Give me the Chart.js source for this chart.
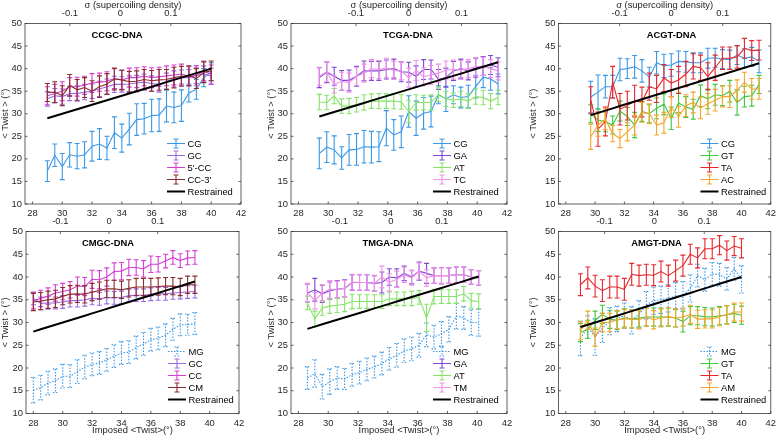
<!DOCTYPE html>
<html>
<head>
<meta charset="utf-8">
<script src="https://cdn.jsdelivr.net/npm/chart.js@4.4.1/dist/chart.umd.min.js"></script>
<style>
  html, body { margin: 0; padding: 0; background: #fff; }
  #wrap { position: relative; width: 780px; height: 438px; overflow: hidden; }
  canvas { position: absolute; }
</style>
</head>
<body>
<div id="wrap"></div>
<script>
/* DATA */
const xTicks = [28, 30, 32, 34, 36, 38, 40, 42];
const yTicks = [10, 15, 20, 25, 30, 35, 40, 45, 50];
const sigmaTicks = [-0.1, 0, 0.1];

// CCGC-DNA
const ccgcTwist = [29, 29.5, 30, 30.5, 31, 31.5, 32, 32.5, 33, 33.5, 34, 34.5, 35, 35.5, 36, 36.5, 37, 37.5, 38, 38.5, 39, 39.5, 40];
const ccgcCG = [17.3, 20.8, 18.3, 20.9, 20.6, 20.9, 22.8, 23.3, 22.4, 25.8, 24.6, 26.6, 28.7, 28.9, 29.6, 29.7, 31.7, 31.4, 31.8, 34.6, 35.4, 38.0, 39.3];
const ccgcCGErr = [2.3, 2.5, 2.9, 2.7, 2.8, 2.9, 3.3, 3.4, 2.6, 3.5, 3.1, 3.5, 3.5, 3.4, 3.6, 3.6, 3.5, 3.4, 3.5, 2.0, 2.2, 2.0, 2.0];
const ccgcGC = [33.3, 34.0, 33.8, 34.5, 34.5, 34.8, 35.0, 35.5, 36.0, 36.5, 36.5, 36.6, 36.8, 37.0, 36.7, 36.5, 37.2, 37.7, 38.0, 38.0, 38.5, 38.8, 38.3];
const ccgcGCErr = [1.6, 1.6, 1.7, 1.6, 1.7, 1.7, 1.6, 1.7, 1.7, 1.8, 1.7, 1.8, 1.7, 1.8, 1.7, 1.7, 1.8, 1.8, 1.7, 1.8, 1.8, 1.8, 1.8];
const ccgcCC5 = [34.0, 34.5, 35.0, 36.0, 36.0, 36.3, 36.8, 37.0, 37.2, 37.8, 37.5, 38.0, 38.0, 38.3, 38.0, 38.2, 38.4, 38.6, 38.8, 38.3, 38.5, 39.5, 38.7];
const ccgcCC5Err = [2.0, 2.0, 2.1, 2.0, 2.1, 2.0, 2.1, 2.0, 2.1, 2.2, 2.1, 2.1, 2.2, 2.1, 2.2, 2.1, 2.2, 2.2, 2.2, 2.1, 2.2, 2.2, 2.1];
const ccgcCC3 = [34.7, 34.8, 34.0, 36.3, 35.3, 35.8, 35.0, 36.0, 36.6, 37.7, 37.5, 37.1, 37.2, 37.6, 37.3, 37.5, 37.6, 38.0, 38.3, 38.4, 37.8, 39.2, 39.5];
const ccgcCC3Err = [2.0, 2.3, 2.2, 2.4, 2.3, 2.2, 2.3, 2.4, 2.3, 2.4, 2.2, 2.3, 2.3, 2.2, 2.3, 2.3, 2.2, 2.3, 2.2, 2.2, 2.2, 2.3, 2.2];

// TCGA-DNA
const tcgaTwist = [29.4, 29.9, 30.4, 30.9, 31.4, 31.9, 32.4, 32.9, 33.4, 33.9, 34.4, 34.9, 35.4, 35.9, 36.4, 36.9, 37.4, 37.9, 38.4, 38.9, 39.4, 39.9, 40.4, 40.9, 41.4];
const tcgaCG = [21.2, 22.6, 22.0, 20.2, 22.0, 22.1, 22.7, 22.6, 22.7, 26.8, 25.3, 26.0, 30.5, 29.0, 30.1, 30.5, 34.2, 33.3, 34.2, 33.6, 33.8, 36.0, 38.1, 37.7, 36.6];
const tcgaCGErr = [3.4, 3.4, 3.1, 2.5, 3.4, 3.5, 3.6, 3.5, 3.3, 3.9, 3.4, 3.5, 3.5, 3.8, 3.5, 3.4, 2.0, 2.8, 2.0, 2.3, 2.5, 2.5, 2.3, 2.5, 2.2];
const tcgaGA = [38.0, 39.2, 38.3, 37.4, 37.4, 38.3, 39.5, 39.5, 39.5, 39.8, 40.0, 39.3, 39.2, 38.3, 39.8, 39.8, 37.6, 38.0, 39.5, 40.0, 39.5, 40.2, 40.6, 40.8, 40.3];
const tcgaGAErr = [2.2, 2.3, 2.0, 2.2, 2.3, 2.2, 2.2, 2.1, 2.1, 2.1, 2.1, 2.2, 2.2, 2.3, 2.2, 2.1, 2.2, 2.1, 2.1, 2.1, 2.0, 2.1, 2.1, 2.1, 2.1];
const tcgaAT = [32.6, 32.5, 33.9, 31.7, 31.7, 32.0, 32.5, 32.8, 32.8, 32.8, 32.8, 32.6, 30.5, 32.5, 32.5, 32.5, 34.3, 33.3, 33.0, 33.3, 32.8, 33.8, 33.6, 32.8, 33.6];
const tcgaATErr = [1.7, 1.6, 1.7, 1.6, 1.7, 1.6, 1.7, 1.6, 1.7, 1.6, 1.7, 1.6, 2.5, 1.7, 1.6, 1.7, 1.6, 1.7, 1.6, 1.7, 1.6, 1.7, 1.6, 1.7, 1.6];
const tcgaTC = [38.3, 39.3, 36.5, 37.2, 36.9, 38.3, 39.0, 40.0, 39.8, 40.2, 39.6, 39.5, 38.0, 39.6, 38.2, 38.6, 39.0, 39.7, 39.8, 39.7, 40.0, 40.4, 40.5, 40.0, 39.5];
const tcgaTCErr = [2.0, 2.2, 1.9, 2.0, 2.1, 2.0, 2.0, 2.0, 2.0, 2.1, 2.0, 2.0, 2.1, 2.2, 2.0, 2.1, 2.0, 2.0, 2.1, 2.1, 2.0, 2.0, 2.0, 2.0, 2.0];

// ACGT-DNA
const acgtTwist = [29.7, 30.2, 30.7, 31.2, 31.7, 32.2, 32.7, 33.2, 33.7, 34.2, 34.7, 35.2, 35.7, 36.2, 36.7, 37.2, 37.7, 38.2, 38.7, 39.2, 39.7, 40.2, 40.7, 41.2];
const acgtCG = [33.7, 34.8, 36.0, 36.0, 39.8, 40.0, 40.4, 39.5, 38.1, 41.3, 40.6, 40.8, 41.6, 41.5, 41.3, 41.3, 42.3, 42.4, 42.1, 42.0, 43.0, 42.3, 42.6, 41.6];
const acgtCGErr = [3.5, 3.8, 2.5, 2.5, 2.5, 2.2, 2.5, 2.5, 2.2, 2.5, 2.6, 2.5, 2.3, 2.3, 2.2, 2.2, 2.2, 2.1, 2.1, 2.1, 2.1, 2.1, 2.1, 2.5];
const acgtGT = [30.0, 28.6, 28.2, 27.5, 30.6, 29.4, 27.5, 30.5, 30.0, 31.2, 32.1, 29.0, 32.4, 31.5, 31.0, 34.0, 33.3, 34.2, 34.0, 35.0, 32.5, 33.8, 34.0, 36.5];
const acgtGTErr = [2.0, 2.5, 2.2, 2.0, 2.2, 2.0, 2.8, 2.2, 2.0, 2.3, 2.3, 2.5, 2.2, 2.3, 2.2, 2.4, 2.2, 2.3, 2.2, 2.4, 2.8, 2.3, 2.3, 2.0];
const acgtTA = [33.0, 26.6, 28.3, 37.0, 31.0, 31.8, 32.8, 32.6, 36.0, 35.5, 37.9, 36.8, 37.5, 38.8, 40.5, 40.2, 38.3, 40.2, 42.3, 42.3, 42.6, 44.5, 44.0, 44.1];
const acgtTAErr = [3.0, 3.8, 3.2, 3.5, 3.5, 3.2, 3.5, 3.3, 3.0, 3.0, 3.0, 3.0, 3.0, 2.8, 2.8, 2.8, 3.0, 2.8, 2.5, 2.5, 2.5, 2.2, 2.2, 2.2];
const acgtAC = [24.9, 27.5, 28.8, 25.6, 24.5, 26.0, 27.5, 30.3, 30.0, 27.5, 28.0, 31.5, 29.3, 31.8, 32.5, 31.3, 32.2, 33.0, 33.8, 33.8, 35.2, 37.0, 35.5, 35.5];
const acgtACErr = [2.8, 2.5, 2.3, 1.8, 2.0, 2.0, 2.2, 2.2, 2.2, 2.2, 2.3, 2.3, 2.3, 2.4, 2.3, 2.4, 2.3, 2.4, 2.3, 2.4, 2.3, 2.2, 2.3, 2.3];

// CMGC-DNA
const cmgcTwist = [28, 28.5, 29, 29.5, 30, 30.5, 31, 31.5, 32, 32.5, 33, 33.5, 34, 34.5, 35, 35.5, 36, 36.5, 37, 37.5, 38, 38.5, 39];
const cmgcMG = [15.1, 15.7, 16.7, 17.2, 18.2, 18.2, 19.2, 20.2, 20.8, 21.1, 21.8, 22.6, 23.3, 23.5, 24.5, 25.3, 26.2, 26.5, 27.2, 28.5, 29.5, 29.5, 29.8];
const cmgcMGErr = [2.8, 2.7, 2.6, 2.6, 2.6, 2.5, 2.6, 2.6, 2.5, 2.5, 2.5, 2.5, 2.5, 2.5, 2.5, 2.5, 2.5, 2.5, 2.5, 2.4, 2.4, 2.3, 2.4];
const cmgcGC = [35.3, 34.2, 34.3, 34.3, 34.5, 34.8, 34.8, 35.0, 35.3, 35.2, 35.5, 35.4, 35.5, 35.9, 36.0, 36.0, 36.2, 36.3, 36.3, 36.5, 36.6, 36.7, 36.8];
const cmgcGCErr = [1.4, 1.4, 1.4, 1.3, 1.4, 1.4, 1.4, 1.4, 1.4, 1.4, 1.4, 1.4, 1.4, 1.4, 1.4, 1.4, 1.4, 1.4, 1.4, 1.4, 1.4, 1.4, 1.4];
const cmgcCC = [34.8, 35.3, 35.8, 36.5, 36.8, 37.2, 38.0, 37.9, 39.5, 39.4, 40.0, 41.2, 41.3, 42.1, 42.1, 41.8, 42.8, 42.8, 43.5, 44.3, 43.6, 44.2, 44.3];
const cmgcCCErr = [1.8, 1.8, 1.8, 1.8, 1.8, 1.8, 2.0, 2.0, 2.0, 2.0, 2.0, 1.9, 1.9, 1.8, 1.7, 1.8, 1.8, 1.7, 1.5, 1.5, 1.5, 1.5, 1.5];
const cmgcCM = [34.5, 34.7, 35.0, 35.2, 35.8, 36.2, 36.3, 36.2, 36.7, 37.0, 37.4, 37.4, 37.2, 37.5, 37.8, 37.8, 37.8, 37.9, 38.0, 38.0, 37.8, 38.3, 38.3];
const cmgcCMErr = [1.9, 1.9, 1.9, 1.9, 1.9, 1.9, 1.9, 1.9, 1.9, 1.9, 1.9, 1.9, 1.9, 1.9, 1.9, 1.9, 1.9, 1.9, 1.9, 1.9, 1.9, 1.9, 1.9];

// TMGA-DNA
const tmgaTwist = [28.6, 29.1, 29.6, 30.1, 30.6, 31.1, 31.6, 32.1, 32.6, 33.1, 33.6, 34.1, 34.6, 35.1, 35.6, 36.1, 36.6, 37.1, 37.6, 38.1, 38.6, 39.1, 39.6, 40.1];
const tmgaMG = [17.8, 18.8, 15.9, 17.0, 17.8, 17.6, 18.5, 19.0, 19.7, 20.2, 21.0, 22.0, 22.8, 23.8, 24.2, 25.0, 27.3, 26.8, 27.5, 28.5, 31.4, 31.0, 30.0, 30.0];
const tmgaMGErr = [2.5, 3.0, 2.7, 2.8, 2.5, 2.3, 2.5, 2.5, 2.5, 2.4, 2.5, 2.5, 2.6, 2.6, 2.6, 2.6, 2.6, 2.6, 2.7, 2.8, 2.8, 2.5, 2.8, 3.0];
const tmgaGA = [36.5, 37.2, 36.3, 37.0, 37.3, 37.5, 38.8, 38.8, 38.8, 38.6, 38.8, 40.0, 39.8, 40.8, 40.0, 41.3, 40.8, 40.3, 40.3, 40.3, 40.5, 40.5, 40.0, 39.8];
const tmgaGAErr = [2.0, 2.5, 1.9, 1.9, 1.9, 1.9, 1.7, 1.7, 1.7, 1.7, 2.3, 1.8, 2.0, 1.6, 1.5, 2.0, 2.2, 1.7, 1.8, 1.7, 1.7, 1.7, 1.6, 1.6];
const tmgaAT = [34.3, 30.8, 33.2, 33.6, 33.8, 34.0, 34.6, 34.6, 34.6, 34.6, 34.6, 35.2, 35.2, 35.2, 35.3, 35.5, 31.0, 35.7, 35.7, 35.7, 35.7, 36.3, 34.8, 34.6];
const tmgaATErr = [1.5, 1.7, 1.6, 1.6, 1.6, 1.6, 1.6, 1.5, 1.5, 1.5, 1.5, 1.5, 1.5, 1.5, 1.6, 1.5, 3.0, 1.6, 1.5, 1.5, 1.5, 1.6, 1.6, 1.7];
const tmgaTM = [36.6, 34.8, 36.5, 37.3, 37.3, 37.5, 38.9, 38.8, 38.8, 38.6, 40.0, 38.8, 39.5, 40.5, 39.8, 41.3, 39.8, 40.3, 40.3, 40.3, 40.5, 40.5, 40.0, 39.8];
const tmgaTMErr = [2.0, 1.8, 1.8, 1.9, 1.8, 1.8, 1.7, 1.7, 1.7, 1.8, 2.4, 1.9, 1.8, 1.7, 1.6, 1.8, 1.8, 1.7, 1.7, 1.7, 1.7, 1.7, 1.6, 1.6];

// AMGT-DNA
const amgtTwist = [29, 29.5, 30, 30.5, 31, 31.5, 32, 32.5, 33, 33.5, 34, 34.5, 35, 35.5, 36, 36.5, 37, 37.5, 38, 38.5, 39, 39.5, 40];
const amgtMG = [26.5, 29.0, 26.8, 28.8, 30.3, 30.8, 31.5, 30.5, 31.8, 33.8, 34.8, 35.0, 35.3, 35.8, 36.0, 37.5, 40.3, 39.4, 40.7, 40.5, 39.6, 41.8, 39.5];
const amgtMGErr = [3.8, 2.5, 4.0, 3.2, 3.0, 2.8, 2.8, 3.0, 3.0, 3.0, 3.0, 3.0, 3.0, 3.0, 3.0, 3.0, 2.5, 2.5, 2.5, 2.5, 2.5, 2.5, 3.0];
const amgtGT = [27.8, 28.5, 30.5, 31.8, 30.7, 30.5, 31.0, 30.8, 31.0, 31.2, 31.2, 31.2, 31.2, 31.0, 30.2, 31.5, 31.5, 31.3, 31.2, 31.5, 31.7, 32.0, 31.6];
const amgtGTErr = [2.0, 2.0, 2.0, 2.0, 2.0, 2.0, 2.0, 2.0, 2.0, 2.0, 2.0, 2.0, 2.0, 2.0, 2.3, 2.0, 2.0, 2.0, 2.0, 2.0, 2.0, 2.0, 2.0];
const amgtTA = [38.3, 39.8, 38.0, 37.0, 37.8, 37.8, 37.3, 40.6, 40.3, 40.5, 40.4, 41.2, 40.3, 41.4, 42.5, 45.0, 44.2, 46.2, 46.2, 47.0, 45.8, 46.8, 46.3];
const amgtTAErr = [2.4, 2.4, 2.4, 2.4, 2.4, 2.4, 2.4, 2.4, 2.3, 2.3, 2.3, 2.3, 2.3, 2.3, 2.3, 2.2, 2.2, 2.2, 2.2, 2.1, 2.1, 2.1, 2.1];
const amgtAM = [28.2, 30.5, 26.8, 30.0, 30.0, 30.6, 30.8, 30.8, 30.6, 31.2, 30.6, 31.0, 31.3, 31.0, 31.2, 31.8, 30.7, 30.8, 30.8, 31.3, 31.7, 32.3, 32.3];
const amgtAMErr = [2.0, 2.0, 2.0, 2.0, 2.0, 2.0, 2.0, 2.0, 2.0, 2.0, 2.0, 2.0, 2.0, 2.0, 2.0, 2.0, 2.0, 2.0, 2.0, 2.0, 2.0, 2.0, 2.0];

/* COLORS */
const C = {
  blue: "#3a98e6", purple: "#9a6ae6", violet: "#7d45d6", magenta: "#d43fd6",
  brown: "#8c2d2d", lime: "#86e36a", green: "#3cc83c", pink: "#f08ee8",
  red: "#e8262c", orange: "#f5a52a"
};
const FONT = '"Liberation Sans", Arial, Helvetica, sans-serif';
const FSIZE = 9.4;
Chart.defaults.font.family = FONT;
Chart.defaults.font.size = FSIZE;
Chart.defaults.color = "#262626";

function series(label, x, y, err, color, dotted) {
  return {
    label, err,
    data: x.map((v, i) => ({ x: v, y: y[i] })),
    borderColor: color, borderWidth: 1.1,
    borderDash: dotted ? [1.5, 1.5] : [],
    pointRadius: 0, fill: false, tension: 0
  };
}
function restrained(x) {
  // restrained twist follows the imposed twist
  return {
    label: "Restrained", data: x.map(v => ({ x: v, y: v })),
    borderColor: "#000", borderWidth: 2, pointRadius: 0, fill: false
  };
}

/* PANELS */
const panels = [
  { title: "CCGC-DNA", row: 0, left: 0, yw: 25, padR: 19, s0: 33.9, tdx: 92, yPad: 0,
    ds: [series("CG", ccgcTwist, ccgcCG, ccgcCGErr, C.blue),
         series("GC", ccgcTwist, ccgcGC, ccgcGCErr, C.purple),
         series("5'-CC", ccgcTwist, ccgcCC5, ccgcCC5Err, C.magenta),
         series("CC-3'", ccgcTwist, ccgcCC3, ccgcCC3Err, C.brown),
         restrained(ccgcTwist)] },
  { title: "TCGA-DNA", row: 0, left: 260, yw: 31, padR: 13, s0: 35.4, tdx: 117, yPad: 6,
    ds: [series("CG", tcgaTwist, tcgaCG, tcgaCGErr, C.blue),
         series("GA", tcgaTwist, tcgaGA, tcgaGAErr, C.violet),
         series("AT", tcgaTwist, tcgaAT, tcgaATErr, C.lime),
         series("TC", tcgaTwist, tcgaTC, tcgaTCErr, C.pink),
         restrained(tcgaTwist)] },
  { title: "ACGT-DNA", row: 0, left: 520, yw: 38.5, padR: 8, s0: 35.2, tdx: 113, yPad: 8,
    ds: [series("CG", acgtTwist, acgtCG, acgtCGErr, C.blue),
         series("GT", acgtTwist, acgtGT, acgtGTErr, C.green),
         series("TA", acgtTwist, acgtTA, acgtTAErr, C.red),
         series("AC", acgtTwist, acgtAC, acgtACErr, C.orange),
         restrained(acgtTwist)] },
  { title: "CMGC-DNA", row: 1, left: 0, yw: 26, padR: 21, s0: 33.15, tdx: 82, yPad: 0,
    ds: [series("MG", cmgcTwist, cmgcMG, cmgcMGErr, C.blue, true),
         series("GC", cmgcTwist, cmgcGC, cmgcGCErr, C.purple),
         series("CC", cmgcTwist, cmgcCC, cmgcCCErr, C.magenta),
         series("CM", cmgcTwist, cmgcCM, cmgcCMErr, C.brown),
         restrained(cmgcTwist)] },
  { title: "TMGA-DNA", row: 1, left: 260, yw: 31, padR: 13, s0: 34.2, tdx: 97, yPad: 6,
    ds: [series("MG", tmgaTwist, tmgaMG, tmgaMGErr, C.blue, true),
         series("GA", tmgaTwist, tmgaGA, tmgaGAErr, C.violet),
         series("AT", tmgaTwist, tmgaAT, tmgaATErr, C.lime),
         series("TM", tmgaTwist, tmgaTM, tmgaTMErr, C.pink),
         restrained(tmgaTwist)] },
  { title: "AMGT-DNA", row: 1, left: 520, yw: 38.5, padR: 8, s0: 34.05, tdx: 98, yPad: 8,
    ds: [series("MG", amgtTwist, amgtMG, amgtMGErr, C.blue, true),
         series("GT", amgtTwist, amgtGT, amgtGTErr, C.green),
         series("TA", amgtTwist, amgtTA, amgtTAErr, C.red),
         series("AM", amgtTwist, amgtAM, amgtAMErr, C.orange),
         restrained(amgtTwist)] }
];
const rows = [
  { top: 0, height: 219, topH: 23.5, botH: 15 },
  { top: 212, height: 226, topH: 19.5, botH: 24.5 }
];

/* PLUGINS */
const errorBars = {
  id: "errorBars",
  afterDatasetDraw(chart, args) {
    const ds = chart.data.datasets[args.index];
    if (!ds.err) return;
    const { x, y } = chart.scales;
    const ctx = chart.ctx;
    ctx.save();
    ctx.strokeStyle = ds.borderColor;
    ctx.lineWidth = ds.borderWidth;
    ctx.setLineDash(ds.borderDash);
    ds.data.forEach((p, i) => {
      const px = x.getPixelForValue(p.x);
      const t = y.getPixelForValue(p.y + ds.err[i]);
      const b = y.getPixelForValue(p.y - ds.err[i]);
      ctx.beginPath();
      ctx.moveTo(px, t); ctx.lineTo(px, b);
      ctx.moveTo(px - 2.5, t); ctx.lineTo(px + 2.5, t);
      ctx.moveTo(px - 2.5, b); ctx.lineTo(px + 2.5, b);
      ctx.stroke();
    });
    ctx.restore();
  }
};

const frame = {
  id: "frame",
  afterDraw(chart, args, opts) {
    const { ctx, chartArea: a, scales } = chart;
    const tl = 2.5;
    ctx.save();
    ctx.strokeStyle = "#3a3a3a";
    ctx.lineWidth = 0.8;
    ctx.strokeRect(a.left, a.top, a.right - a.left, a.bottom - a.top);
    ctx.beginPath();
    scales.x.ticks.forEach(t => {
      const px = scales.x.getPixelForValue(t.value);
      ctx.moveTo(px, a.bottom); ctx.lineTo(px, a.bottom - tl);
    });
    scales.x2.ticks.forEach(t => {
      const px = scales.x2.getPixelForValue(t.value);
      ctx.moveTo(px, a.top); ctx.lineTo(px, a.top + tl);
    });
    scales.y.ticks.forEach(t => {
      const py = scales.y.getPixelForValue(t.value);
      ctx.moveTo(a.left, py); ctx.lineTo(a.left + tl, py);
      ctx.moveTo(a.right, py); ctx.lineTo(a.right - tl, py);
    });
    ctx.stroke();

    // panel title
    ctx.fillStyle = "#000";
    ctx.font = "bold " + FSIZE + "px " + FONT;
    ctx.textAlign = "center";
    ctx.textBaseline = "middle";
    ctx.fillText(opts.title, a.left + opts.tdx, a.top + 12);

    // legend
    ctx.font = FSIZE + "px " + FONT;
    ctx.textAlign = "left";
    chart.data.datasets.forEach((ds, i) => {
      const y0 = a.top + 120 + i * 12;
      const x0 = a.left + 142;
      ctx.strokeStyle = ds.borderColor;
      ctx.lineWidth = ds.borderWidth;
      ctx.setLineDash(ds.borderDash || []);
      ctx.beginPath();
      ctx.moveTo(x0, y0); ctx.lineTo(x0 + 18, y0);
      if (ds.err) {
        const cx = x0 + 9;
        ctx.moveTo(cx, y0 - 4.5); ctx.lineTo(cx, y0 + 4.5);
        ctx.moveTo(cx - 2.5, y0 - 4.5); ctx.lineTo(cx + 2.5, y0 - 4.5);
        ctx.moveTo(cx - 2.5, y0 + 4.5); ctx.lineTo(cx + 2.5, y0 + 4.5);
      }
      ctx.stroke();
      ctx.setLineDash([]);
      ctx.fillStyle = "#000";
      ctx.fillText(ds.label, x0 + 20.5, y0 + 0.5);
    });
    ctx.restore();
  }
};

/* BUILD */
function buildPanel(p) {
  const r = rows[p.row];
  const cv = document.createElement("canvas");
  cv.width = 260; cv.height = r.height;
  cv.style.left = p.left + "px"; cv.style.top = r.top + "px";
  document.getElementById("wrap").appendChild(cv);

  const n = p.ds.length;
  p.ds.forEach((d, i) => { d.order = n - i; });

  new Chart(cv, {
    type: "line",
    data: { datasets: p.ds },
    plugins: [errorBars, frame],
    options: {
      responsive: false, animation: false, events: [],
      layout: { padding: { left: 0, right: p.padR, top: 0, bottom: 0 } },
      plugins: {
        legend: { display: false }, tooltip: { enabled: false },
        frame: { title: p.title, tdx: p.tdx }
      },
      scales: {
        x: {
          type: "linear", position: "bottom", min: 27.5, max: 42,
          afterBuildTicks: s => { s.ticks = xTicks.map(v => ({ value: v })); },
          afterFit: s => { s.height = r.botH; },
          grid: { display: false, drawTicks: false }, border: { display: false },
          ticks: { padding: 4, maxRotation: 0, autoSkip: false, callback: v => String(v) },
          title: { display: p.row === 1, text: "Imposed <Twist>(°)", padding: { top: 0, bottom: 1.5 } }
        },
        x2: {
          type: "linear", position: "top", min: 27.5 / p.s0 - 1, max: 42 / p.s0 - 1,
          afterBuildTicks: s => { s.ticks = sigmaTicks.map(v => ({ value: v })); },
          afterFit: s => { s.height = r.topH; },
          grid: { display: false, drawTicks: false }, border: { display: false },
          ticks: { padding: 4, maxRotation: 0, autoSkip: false, callback: v => String(v) },
          title: { display: p.row === 0, text: "σ (supercoiling density)", padding: { top: 0, bottom: 0 } }
        },
        y: {
          type: "linear", position: "left", min: 10, max: 50,
          afterBuildTicks: s => { s.ticks = yTicks.map(v => ({ value: v })); },
          afterFit: s => { s.width = p.yw; },
          grid: { display: false, drawTicks: false }, border: { display: false },
          ticks: { padding: 3, autoSkip: false, callback: v => String(v) },
          title: { display: true, text: "< Twist > (°)", padding: { top: p.yPad, bottom: 0 } }
        }
      }
    }
  });
}

panels.forEach(buildPanel);
</script>
</body>
</html>
